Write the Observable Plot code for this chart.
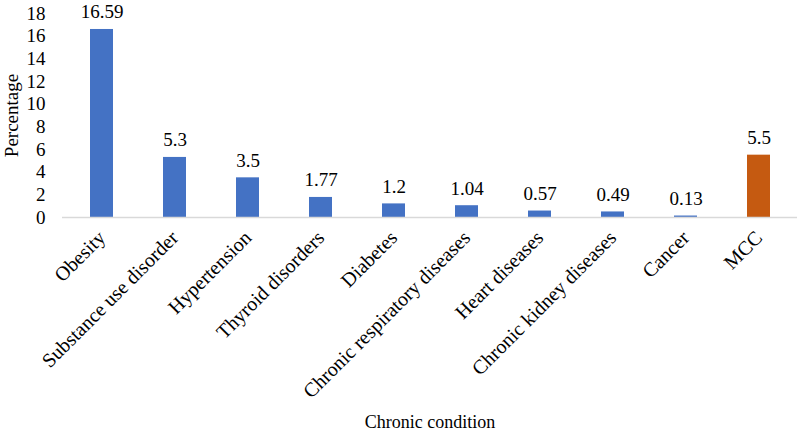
<!DOCTYPE html>
<html>
<head>
<meta charset="utf-8">
<script src="https://cdn.jsdelivr.net/npm/d3@7"></script>
<script src="https://cdn.jsdelivr.net/npm/@observablehq/plot@0.6"></script>
<style>
  html, body { margin: 0; padding: 0; background: #fff; }
  svg { font-family: "Liberation Serif", "Times New Roman", serif; }
</style>
</head>
<body>
<div id="chart"></div>
<script>
const categories = ["Obesity", "Substance use disorder", "Hypertension", "Thyroid disorders", "Diabetes", "Chronic respiratory diseases", "Heart diseases", "Chronic kidney diseases", "Cancer", "MCC"];
const values = [16.59, 5.3, 3.5, 1.77, 1.2, 1.04, 0.57, 0.49, 0.13, 5.5];
const valueLabels = ["16.59", "5.3", "3.5", "1.77", "1.2", "1.04", "0.57", "0.49", "0.13", "5.5"];
const groups = ["single", "single", "single", "single", "single", "single", "single", "single", "single", "multiple"];
const yTicks = [0, 2, 4, 6, 8, 10, 12, 14, 16, 18];

const data = categories.map((c, i) => ({cat: c, value: values[i], label: valueLabels[i], group: groups[i]}));
const font = "Liberation Serif";

const chart = Plot.plot({
  width: 797,
  height: 434,
  marginLeft: 62,
  marginRight: 0,
  marginTop: 13,
  marginBottom: 217,
  style: {fontFamily: font, background: "#fff"},
  x: {domain: categories, paddingInner: 0.687, paddingOuter: 0.34, label: null},
  y: {domain: [0, 18], label: null},
  color: {domain: ["single", "multiple"], range: ["#4472C4", "#C55A11"]},
  marks: [
    Plot.barY(data, {x: "cat", y: "value", fill: "group"}),
    Plot.ruleY([0], {stroke: "#d9d9d9", strokeWidth: 1.5}),
    Plot.text(data, {x: "cat", y: "value", text: "label", lineAnchor: "bottom", dy: -11, fontSize: 19, fill: "#000", fontFamily: font}),
    Plot.axisY({ticks: yTicks, tickSize: 0, tickPadding: 17, fontSize: 19, label: null, fontFamily: font, fill: "#000"}),
    Plot.axisX({tickSize: 0, tickRotate: -45, tickPadding: 17, fontSize: 20, label: null, fontFamily: font, fill: "#000"}),
    Plot.text(["Percentage"], {frameAnchor: "left", textAnchor: "middle", lineAnchor: "middle", dx: -51, rotate: -90, fontSize: 19, fontFamily: font, fill: "#000"}),
    Plot.text(["Chronic condition"], {frameAnchor: "bottom", textAnchor: "middle", lineAnchor: "middle", dy: 205, fontSize: 18, fontFamily: font, fill: "#000"})
  ]
});
document.getElementById("chart").appendChild(chart);
</script>
</body>
</html>
